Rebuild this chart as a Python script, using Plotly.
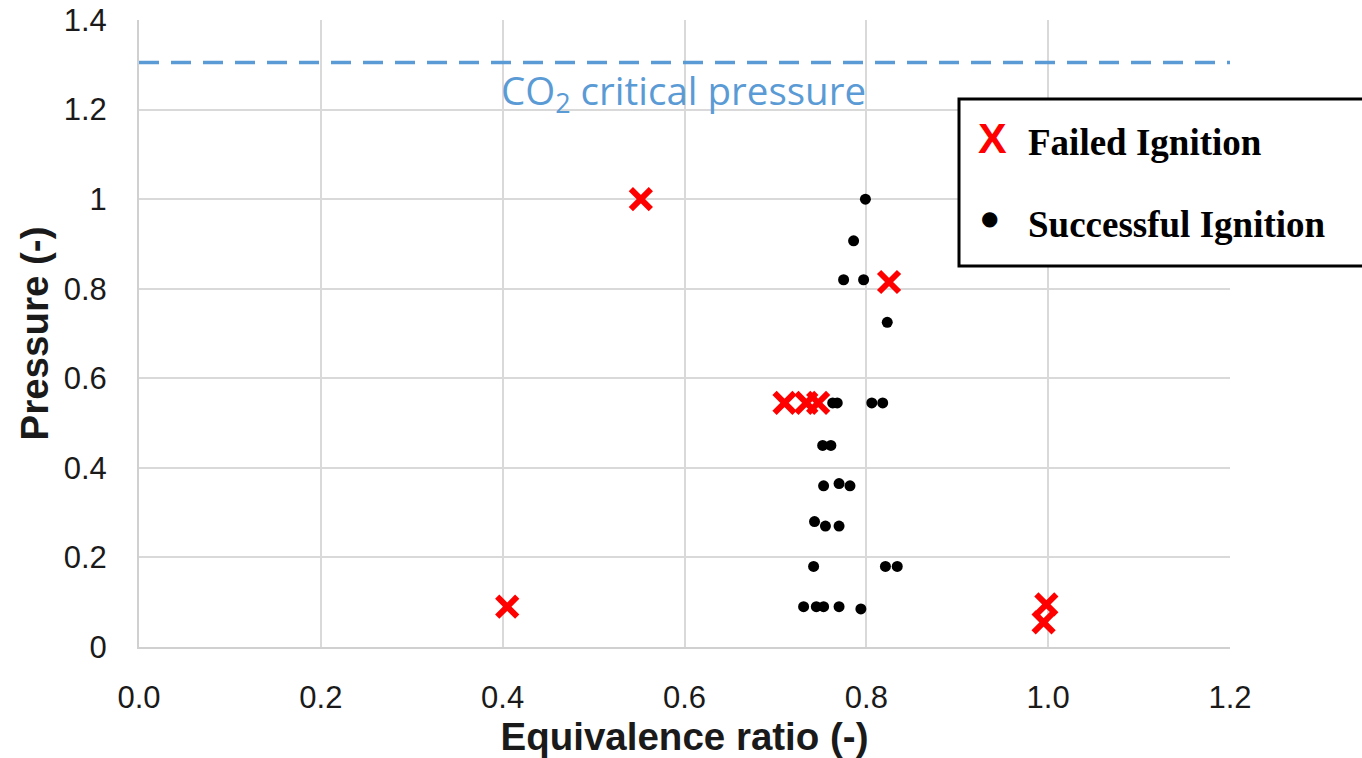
import plotly.graph_objects as go

# Ignition test results: equivalence ratio vs. normalised pressure
success_phi = [0.799, 0.786, 0.775, 0.797, 0.823, 0.763, 0.768, 0.806, 0.818,
               0.752, 0.761, 0.753, 0.770, 0.782, 0.743, 0.755, 0.770,
               0.742, 0.821, 0.834, 0.731, 0.745, 0.753, 0.770, 0.794]
success_p = [1.0, 0.907, 0.82, 0.82, 0.725, 0.545, 0.545, 0.545, 0.545,
             0.45, 0.45, 0.36, 0.365, 0.36, 0.28, 0.27, 0.27,
             0.18, 0.18, 0.18, 0.09, 0.09, 0.09, 0.09, 0.085]

failed_phi = [0.552, 0.825, 0.405, 0.998, 0.995, 0.710, 0.734, 0.747]
failed_p = [1.0, 0.815, 0.09, 0.095, 0.055, 0.545, 0.545, 0.545]

co2_critical = 1.305
x_ticks = [0.0, 0.2, 0.4, 0.6, 0.8, 1.0, 1.2]
x_ticktext = ["0.0", "0.2", "0.4", "0.6", "0.8", "1.0", "1.2"]
y_ticks = [0, 0.2, 0.4, 0.6, 0.8, 1.0, 1.2, 1.4]
y_ticktext = ["0", "0.2", "0.4", "0.6", "0.8", "1", "1.2", "1.4"]

W, H = 1362, 758
ML, MR, MT, MB = 139, 132, 20, 111
PW, PH = W - ML - MR, H - MT - MB


def px_x(px):
    return (px - ML) / PW


def px_y(py):
    return (H - MB - py) / PH


fig = go.Figure()

fig.add_trace(go.Scatter(
    x=[0, 1.2], y=[co2_critical, co2_critical], mode="lines",
    line=dict(color="#5B9BD5", width=3.5, dash="20px,12px"),
    showlegend=False, hoverinfo="skip"))

fig.add_trace(go.Scatter(
    x=success_phi, y=success_p, mode="markers", name="Successful Ignition",
    marker=dict(symbol="circle", size=11, color="black"),
    showlegend=False))

fig.add_trace(go.Scatter(
    x=failed_phi, y=failed_p, mode="markers", name="Failed Ignition",
    marker=dict(symbol="x-thin", size=20, color="#FF0000",
                line=dict(color="#FF0000", width=6)),
    showlegend=False))

axis_font = dict(family="Liberation Sans, Arial", size=31, color="#1a1a1a")
title_font = dict(family="Liberation Sans, Arial", size=38.5, color="#1a1a1a")

fig.update_xaxes(
    range=[0, 1.2], tickvals=x_ticks, ticktext=x_ticktext,
    showgrid=True, gridcolor="#D9D9D9", gridwidth=2,
    showline=True, linecolor="#D0D0D0", linewidth=2,
    zeroline=False, ticks="", ticklabelstandoff=22, tickfont=axis_font,
    automargin=False,
    title=dict(text="<b>Equivalence ratio (-)</b>", font=title_font, standoff=18))
fig.update_yaxes(
    range=[0, 1.4], tickvals=y_ticks, ticktext=y_ticktext,
    showgrid=True, gridcolor="#D9D9D9", gridwidth=2,
    showline=True, linecolor="#D0D0D0", linewidth=2,
    zeroline=False, ticks="", ticklabelstandoff=24, tickfont=axis_font,
    automargin=False,
    title=dict(text="<b>Pressure (-)</b>", font=title_font, standoff=3))

# Label for the critical pressure line
fig.add_annotation(
    x=px_x(499), y=px_y(92), xref="paper", yref="paper",
    xanchor="left", yanchor="middle", showarrow=False,
    text="CO<sub>2</sub> critical pressure",
    font=dict(family="Open Sans", size=38.5, color="#5B9BD5"))

# Legend box drawn by hand
fig.add_shape(type="rect", xref="paper", yref="paper",
              x0=px_x(959), x1=px_x(1380), y0=px_y(266), y1=px_y(99),
              line=dict(color="black", width=3), fillcolor="white", layer="above")
leg_font = dict(family="Liberation Serif, Times New Roman", size=37, color="black")
fig.add_annotation(x=px_x(992.5), y=px_y(138), xref="paper", yref="paper",
                   xanchor="center", yanchor="middle", showarrow=False,
                   text="<b>X</b>",
                   font=dict(family="Liberation Sans, Arial", size=43, color="#FF0000"))
fig.add_annotation(x=px_x(1026), y=px_y(142), xref="paper", yref="paper",
                   xanchor="left", yanchor="middle", showarrow=False,
                   text="<b>Failed Ignition</b>", font=leg_font)
fig.add_annotation(x=px_x(990), y=px_y(218), xref="paper", yref="paper",
                   xanchor="center", yanchor="middle", showarrow=False,
                   text="●", font=dict(family="DejaVu Sans", size=20, color="black"))
fig.add_annotation(x=px_x(1026), y=px_y(224), xref="paper", yref="paper",
                   xanchor="left", yanchor="middle", showarrow=False,
                   text="<b>Successful Ignition</b>", font=leg_font)

fig.update_layout(
    width=W, height=H, autosize=False,
    margin=dict(l=ML, r=MR, t=MT, b=MB),
    plot_bgcolor="white", paper_bgcolor="white",
    showlegend=False)

fig.write_html("out.html")
